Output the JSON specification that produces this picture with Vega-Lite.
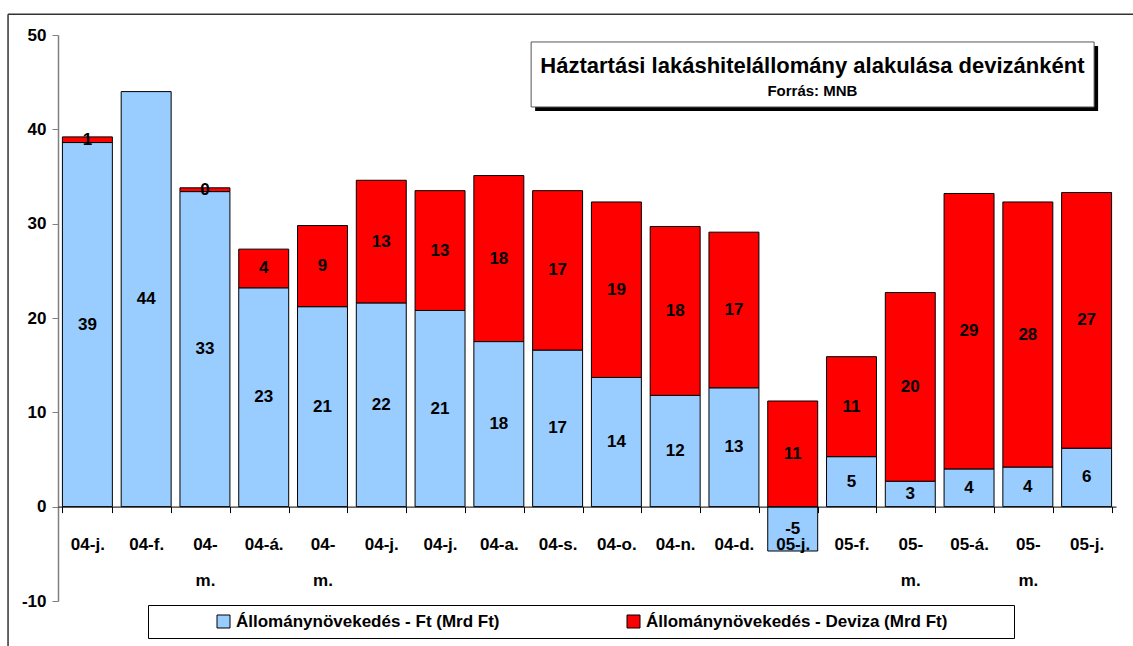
{
  "$schema": "https://vega.github.io/schema/vega-lite/v6.json",
  "width": 1058,
  "height": 566,
  "autosize": {"type": "none"},
  "padding": {"left": 58, "top": 35, "right": 17, "bottom": 45},
  "background": "white",
  "config": {
    "view": {"stroke": null},
    "font": "Liberation Sans",
    "locale": {"number": {"decimal": ".", "thousands": ",", "grouping": [3], "currency": ["", ""], "minus": "-"}}
  },
  "data": {
    "values": [
      {"cat": "2004-01", "series": "Állománynövekedés - Ft (Mrd Ft)", "ord": 1, "v": 38.6},
      {"cat": "2004-01", "series": "Állománynövekedés - Deviza (Mrd Ft)", "ord": 2, "v": 0.6},
      {"cat": "2004-02", "series": "Állománynövekedés - Ft (Mrd Ft)", "ord": 1, "v": 44.0},
      {"cat": "2004-03", "series": "Állománynövekedés - Ft (Mrd Ft)", "ord": 1, "v": 33.4},
      {"cat": "2004-03", "series": "Állománynövekedés - Deviza (Mrd Ft)", "ord": 2, "v": 0.4},
      {"cat": "2004-04", "series": "Állománynövekedés - Ft (Mrd Ft)", "ord": 1, "v": 23.2},
      {"cat": "2004-04", "series": "Állománynövekedés - Deviza (Mrd Ft)", "ord": 2, "v": 4.1},
      {"cat": "2004-05", "series": "Állománynövekedés - Ft (Mrd Ft)", "ord": 1, "v": 21.2},
      {"cat": "2004-05", "series": "Állománynövekedés - Deviza (Mrd Ft)", "ord": 2, "v": 8.6},
      {"cat": "2004-06", "series": "Állománynövekedés - Ft (Mrd Ft)", "ord": 1, "v": 21.6},
      {"cat": "2004-06", "series": "Állománynövekedés - Deviza (Mrd Ft)", "ord": 2, "v": 13.0},
      {"cat": "2004-07", "series": "Állománynövekedés - Ft (Mrd Ft)", "ord": 1, "v": 20.8},
      {"cat": "2004-07", "series": "Állománynövekedés - Deviza (Mrd Ft)", "ord": 2, "v": 12.7},
      {"cat": "2004-08", "series": "Állománynövekedés - Ft (Mrd Ft)", "ord": 1, "v": 17.5},
      {"cat": "2004-08", "series": "Állománynövekedés - Deviza (Mrd Ft)", "ord": 2, "v": 17.6},
      {"cat": "2004-09", "series": "Állománynövekedés - Ft (Mrd Ft)", "ord": 1, "v": 16.6},
      {"cat": "2004-09", "series": "Állománynövekedés - Deviza (Mrd Ft)", "ord": 2, "v": 16.9},
      {"cat": "2004-10", "series": "Állománynövekedés - Ft (Mrd Ft)", "ord": 1, "v": 13.7},
      {"cat": "2004-10", "series": "Állománynövekedés - Deviza (Mrd Ft)", "ord": 2, "v": 18.6},
      {"cat": "2004-11", "series": "Állománynövekedés - Ft (Mrd Ft)", "ord": 1, "v": 11.8},
      {"cat": "2004-11", "series": "Állománynövekedés - Deviza (Mrd Ft)", "ord": 2, "v": 17.9},
      {"cat": "2004-12", "series": "Állománynövekedés - Ft (Mrd Ft)", "ord": 1, "v": 12.6},
      {"cat": "2004-12", "series": "Állománynövekedés - Deviza (Mrd Ft)", "ord": 2, "v": 16.5},
      {"cat": "2005-01", "series": "Állománynövekedés - Ft (Mrd Ft)", "ord": 1, "v": -4.7},
      {"cat": "2005-01", "series": "Állománynövekedés - Deviza (Mrd Ft)", "ord": 2, "v": 11.2},
      {"cat": "2005-02", "series": "Állománynövekedés - Ft (Mrd Ft)", "ord": 1, "v": 5.3},
      {"cat": "2005-02", "series": "Állománynövekedés - Deviza (Mrd Ft)", "ord": 2, "v": 10.6},
      {"cat": "2005-03", "series": "Állománynövekedés - Ft (Mrd Ft)", "ord": 1, "v": 2.7},
      {"cat": "2005-03", "series": "Állománynövekedés - Deviza (Mrd Ft)", "ord": 2, "v": 20.0},
      {"cat": "2005-04", "series": "Állománynövekedés - Ft (Mrd Ft)", "ord": 1, "v": 4.0},
      {"cat": "2005-04", "series": "Állománynövekedés - Deviza (Mrd Ft)", "ord": 2, "v": 29.2},
      {"cat": "2005-05", "series": "Állománynövekedés - Ft (Mrd Ft)", "ord": 1, "v": 4.2},
      {"cat": "2005-05", "series": "Állománynövekedés - Deviza (Mrd Ft)", "ord": 2, "v": 28.1},
      {"cat": "2005-06", "series": "Állománynövekedés - Ft (Mrd Ft)", "ord": 1, "v": 6.2},
      {"cat": "2005-06", "series": "Állománynövekedés - Deviza (Mrd Ft)", "ord": 2, "v": 27.1}
    ]
  },
  "layer": [
    {
      "data": {"values": [{}]},
      "mark": {"type": "rule", "stroke": "#333333", "strokeWidth": 1.5},
      "encoding": {
        "x": {"datum": "2004-01", "type": "ordinal", "bandPosition": -1.088},
        "y": {"datum": 52.2, "type": "quantitative"},
        "y2": {"datum": -20}
      }
    },
    {
      "data": {"values": [{}]},
      "mark": {"type": "rule", "stroke": "#333333", "strokeWidth": 1.5},
      "encoding": {
        "x": {"datum": "2004-01", "type": "ordinal", "bandPosition": -1.088},
        "x2": {"datum": "2005-06", "bandPosition": 2},
        "y": {"datum": 52.2, "type": "quantitative"}
      }
    },
    {
      "mark": {"type": "bar", "stroke": "#000000", "strokeWidth": 1},
      "encoding": {
        "x": {
          "field": "cat",
          "type": "ordinal",
          "scale": {"paddingInner": 0.15, "paddingOuter": 0.075},
          "axis": {
            "title": null,
            "orient": "bottom",
            "offset": -94.4,
            "zindex": 1,
            "tickBand": "extent",
            "tickSize": 6,
            "tickColor": "#000000",
            "domainColor": "#000000",
            "labelAngle": 0,
            "labelAlign": "center",
            "labelFontSize": 17,
            "labelFontWeight": "bold",
            "labelColor": "#000000",
            "labelPadding": 32,
            "labelLineHeight": 36,
            "labelOverlap": false,
            "labelBound": false,
            "labelExpr": "!isString(datum.value) || length(datum.value) < 7 ? '' : (substring('jfmamjjasond', toNumber(substring(datum.value,5,7))-1, toNumber(substring(datum.value,5,7))) == 'm' ? [substring(datum.value,2,4) + '-', 'm.'] : substring(datum.value,2,4) + '-' + substring('jfmámjjasond', toNumber(substring(datum.value,5,7))-1, toNumber(substring(datum.value,5,7))) + '.')"
          }
        },
        "y": {
          "field": "v",
          "type": "quantitative",
          "stack": "zero",
          "scale": {"domain": [-10, 50], "nice": false, "zero": false},
          "axis": {
            "values": [-10, 0, 10, 20, 30, 40, 50],
            "title": null,
            "grid": false,
            "domainColor": "#808080",
            "domainWidth": 1.5,
            "tickColor": "#808080",
            "tickSize": 6,
            "labelFontSize": 17,
            "labelFontWeight": "bold",
            "labelColor": "#000000",
            "labelPadding": 6
          }
        },
        "color": {
          "field": "series",
          "type": "nominal",
          "scale": {
            "domain": ["Állománynövekedés - Ft (Mrd Ft)", "Állománynövekedés - Deviza (Mrd Ft)"],
            "range": ["#99CCFF", "#FF0000"]
          },
          "legend": {
            "orient": "none",
            "legendX": 90,
            "legendY": 570,
            "direction": "horizontal",
            "title": "\u00a0",
            "titleOrient": "right",
            "titlePadding": 59,
            "padding": 8,
            "strokeColor": "#000000",
            "fillColor": "white",
            "symbolType": "square",
            "symbolSize": 169,
            "symbolStrokeColor": "#000000",
            "symbolStrokeWidth": 1,
            "symbolOffset": 59,
            "columnPadding": 66,
            "labelFontSize": 17,
            "labelFontWeight": "bold",
            "labelColor": "#000000",
            "labelLimit": 500,
            "labelOffset": 4
          }
        },
        "order": {"field": "ord"}
      }
    },
    {
      "transform": [
        {"stack": "v", "groupby": ["cat"], "sort": [{"field": "ord"}], "as": ["v0", "v1"]},
        {"fold": ["v0", "v1"], "as": ["k", "pos"]},
        {"aggregate": [{"op": "mean", "field": "pos", "as": "mid"}, {"op": "mean", "field": "v", "as": "val"}], "groupby": ["cat", "series"]}
      ],
      "mark": {"type": "text", "fontSize": 17, "fontWeight": "bold", "color": "#000000", "baseline": "middle", "align": "center"},
      "encoding": {
        "x": {"field": "cat", "type": "ordinal"},
        "y": {"field": "mid", "type": "quantitative", "stack": null},
        "text": {"field": "val", "type": "quantitative", "format": ".0f"}
      }
    },
    {
      "data": {"values": [{}]},
      "mark": {"type": "rect", "fill": "#000000"},
      "encoding": {
        "x": {"datum": "2004-09", "type": "ordinal", "bandPosition": 0.05},
        "x2": {"datum": "2005-06", "bandPosition": 0.73},
        "y": {"datum": 48.83, "type": "quantitative"},
        "y2": {"datum": 41.95}
      }
    },
    {
      "data": {"values": [{}]},
      "mark": {"type": "rect", "fill": "#ffffff", "stroke": "#555555", "strokeWidth": 1},
      "encoding": {
        "x": {"datum": "2004-09", "type": "ordinal", "bandPosition": -0.03},
        "x2": {"datum": "2005-06", "bandPosition": 0.65},
        "y": {"datum": 49.26, "type": "quantitative"},
        "y2": {"datum": 42.37}
      }
    },
    {
      "data": {"values": [{}]},
      "mark": {"type": "text", "text": "Háztartási lakáshitelállomány alakulása devizánként", "fontSize": 22, "fontWeight": "bold", "color": "#000000", "align": "center", "baseline": "middle"},
      "encoding": {
        "x": {"datum": "2005-01", "type": "ordinal", "bandPosition": 0.894},
        "y": {"datum": 46.72, "type": "quantitative"}
      }
    },
    {
      "data": {"values": [{}]},
      "mark": {"type": "text", "text": "Forrás: MNB", "fontSize": 15, "fontWeight": "bold", "color": "#000000", "align": "center", "baseline": "middle"},
      "encoding": {
        "x": {"datum": "2005-01", "type": "ordinal", "bandPosition": 0.894},
        "y": {"datum": 44.1, "type": "quantitative"}
      }
    }
  ]
}
